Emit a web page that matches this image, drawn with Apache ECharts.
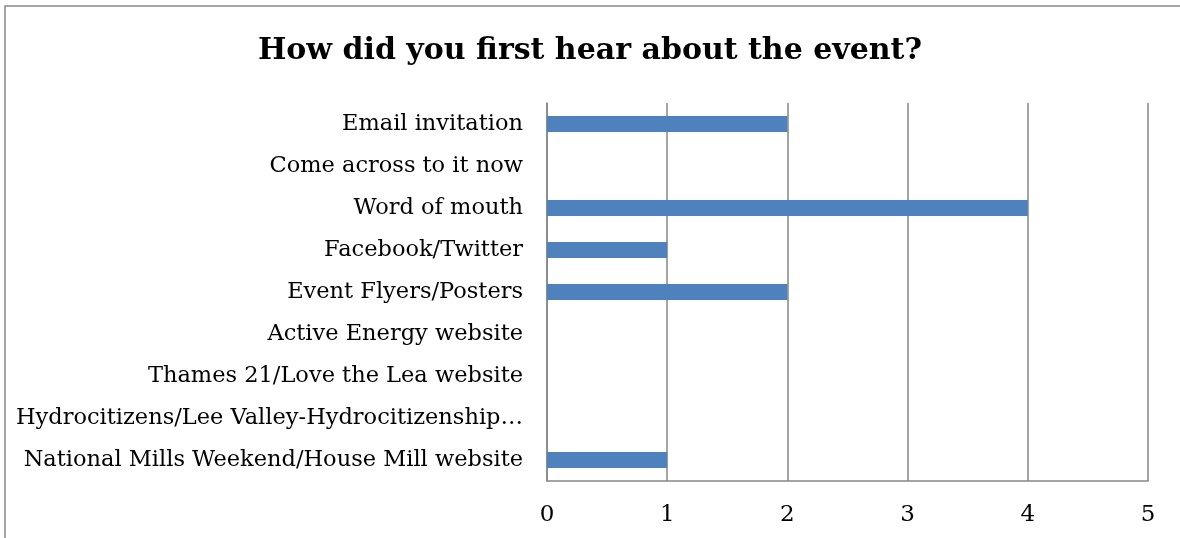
<!DOCTYPE html>
<html>
<head>
<meta charset="utf-8">
<script src="https://cdn.jsdelivr.net/npm/echarts@6/dist/echarts.min.js"></script>
<style>
html,body{margin:0;padding:0;background:#fff;}
#chart{width:1180px;height:538px;}
</style>
</head>
<body>
<div id="chart"></div>
<script>
const titleText = "How did you first hear about the event?";
const categories = [
  "Email invitation",
  "Come across to it now",
  "Word of mouth",
  "Facebook/Twitter",
  "Event Flyers/Posters",
  "Active Energy website",
  "Thames 21/Love the Lea website",
  "Hydrocitizens/Lee Valley-Hydrocitizenship…",
  "National Mills Weekend/House Mill website"
];
const counts = [2, 0, 4, 1, 2, 0, 0, 0, 1];
const xTicks = [0, 1, 2, 3, 4, 5];

const chart = echarts.init(document.getElementById('chart'), null, {renderer: 'canvas'});
const font = '"DejaVu Serif", "Liberation Serif", serif';
chart.setOption({
  animation: false,
  backgroundColor: '#fff',
  title: {
    text: titleText,
    left: 'center',
    top: 31,
    textStyle: {fontFamily: font, fontWeight: 'bold', fontSize: 30, color: '#000'}
  },
  graphic: [{
    type: 'rect',
    shape: {x: 5, y: 6, width: 1300, height: 700},
    style: {fill: 'none', stroke: '#888', lineWidth: 1.5},
    silent: true
  }],
  grid: {left: 547, right: 32, top: 103, bottom: 57, containLabel: false},
  xAxis: {
    type: 'value',
    min: xTicks[0],
    max: xTicks[xTicks.length - 1],
    interval: 1,
    axisLine: {show: true, lineStyle: {color: '#868686', width: 1.5}},
    axisTick: {show: false},
    splitLine: {show: true, lineStyle: {color: '#868686', width: 1.5}},
    axisLabel: {fontFamily: font, fontSize: 23, color: '#000', margin: 23}
  },
  yAxis: {
    type: 'category',
    inverse: true,
    data: categories,
    axisLine: {show: true, lineStyle: {color: '#868686', width: 1.5}},
    axisTick: {show: false},
    axisLabel: {fontFamily: font, fontSize: 22.5, color: '#000', margin: 24}
  },
  series: [{
    type: 'bar',
    data: counts,
    barWidth: 16,
    itemStyle: {color: '#4F81BD'}
  }]
});
</script>
</body>
</html>
